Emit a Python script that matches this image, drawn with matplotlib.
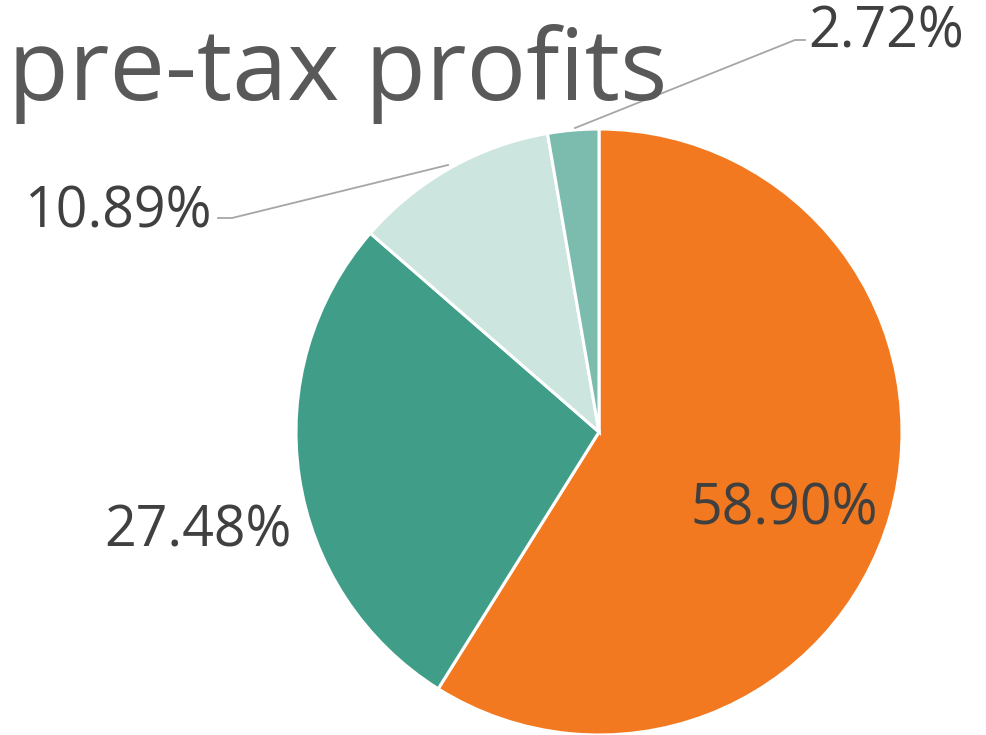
import matplotlib
matplotlib.use("Agg")
import matplotlib.pyplot as plt

title = "pre-tax profits"
shares = [58.90, 27.48, 10.89, 2.72]
labels = ["58.90%", "27.48%", "10.89%", "2.72%"]
colors = ["#F27920", "#409E88", "#CDE5DF", "#7BBCAE"]

W, H = 986, 735
fig = plt.figure(figsize=(W / 100, H / 100), dpi=100)
ax = fig.add_axes([0, 0, 1, 1])
ax.set_xlim(0, W)
ax.set_ylim(0, H)
ax.set_aspect("equal")
ax.axis("off")

cx, cy, r = 599, H - 432, 303
ax.pie(shares, colors=colors, startangle=90, counterclock=False,
       center=(cx, cy), radius=r, frame=True,
       wedgeprops=dict(edgecolor="white", linewidth=2.2))
ax.set_xlim(0, W)
ax.set_ylim(0, H)
ax.axis("off")

font = "Open Sans"
lab_col = "#404040"
fs = 40
ax.text(784, H - 510, labels[0], fontsize=fs, color=lab_col, family=font,
        ha="center", va="center")
ax.text(198, H - 532, labels[1], fontsize=fs, color=lab_col, family=font,
        ha="center", va="center")
ax.text(212, H - 213, labels[2], fontsize=fs, color=lab_col, family=font,
        ha="right", va="center")
ax.text(808, H - 33, labels[3], fontsize=fs, color=lab_col, family=font,
        ha="left", va="center")

lc = "#A6A6A6"
ax.plot([448, 232, 218], [H - 165, H - 218, H - 218], color=lc, lw=1.3)
ax.plot([575, 795, 805], [H - 128, H - 40, H - 40], color=lc, lw=1.3)

fig.text(8 / W, 1 - 100 / H, title, fontsize=71.5, color="#595959",
         family=font, ha="left", va="baseline")

fig.savefig("out.png", dpi=100)
